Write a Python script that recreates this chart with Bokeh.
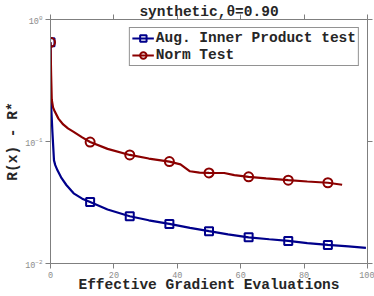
from bokeh.plotting import figure
from bokeh.models import LinearAxis, LogAxis, FixedTicker, Range1d, CustomJSTickFormatter
from bokeh.embed import file_html
from bokeh.resources import INLINE

title_text = "synthetic,θ=0.90"
x_label = "Effective Gradient Evaluations"
y_label = "R(x) - R*"
series_names = ["Aug. Inner Product test", "Norm Test"]

x_ticks = [0, 20, 40, 60, 80, 100]
y_ticks = [0.01, 0.1, 1.0]

aug_x = [0, 0.15, 0.6, 1.1, 1.5, 2.2, 3.5, 5, 7.3, 10, 12.5, 18, 25, 31, 37.5,
         44, 50, 56, 62.5, 69, 75, 81, 87.5, 94, 99.5]
aug_y = [0.65, 0.21, 0.12, 0.07, 0.064, 0.058, 0.050, 0.044, 0.0376, 0.034,
         0.0319, 0.0277, 0.0244, 0.0226, 0.0211, 0.0196, 0.0184, 0.0173, 0.0164,
         0.0158, 0.0153, 0.0147, 0.0142, 0.0138, 0.01345]

norm_x = [0, 0.2, 0.4, 0.8, 1.4, 2.5, 4, 5.5, 7.3, 10, 12.5, 18, 25, 31, 37.5,
          41, 44, 47, 50, 54.8, 58, 62.5, 68, 75, 81, 87.5, 92]
norm_y = [0.65, 0.35, 0.22, 0.19, 0.175, 0.154, 0.138, 0.128, 0.12, 0.108,
          0.099, 0.087, 0.0776, 0.0725, 0.0684, 0.065, 0.057, 0.0556, 0.0553,
          0.0552, 0.053, 0.0513, 0.0498, 0.0482, 0.047, 0.0459, 0.0442]

marker_x = [0, 12.5, 25, 37.5, 50, 62.5, 75, 87.5]
aug_marker_y = [0.65, 0.0319, 0.0244, 0.0211, 0.0184, 0.0164, 0.0153, 0.0142]
norm_marker_y = [0.65, 0.099, 0.0776, 0.0684, 0.0553, 0.0513, 0.0482, 0.0459]

BLUE = "#00008B"
RED = "#8B0000"
AXIS = "#7f7f7f"
TEXT = "#262626"
MONO = "Liberation Mono"

p = figure(width=374, height=296, y_axis_type="log",
           x_range=Range1d(0, 100), y_range=Range1d(0.01, 1.0),
           output_backend="svg", toolbar_location=None,
           min_border_left=50, min_border_right=7, min_border_top=17,
           min_border_bottom=33)
p.grid.visible = False
p.outline_line_color = None
p.background_fill_color = "white"
p.border_fill_color = "white"

def style_axis(ax, labels=True):
    ax.axis_line_color = AXIS
    ax.major_tick_line_color = AXIS
    ax.major_tick_out = 5
    ax.major_tick_in = 0
    ax.minor_tick_line_color = None
    ax.major_label_text_font = MONO
    ax.major_label_text_color = "#8c8c8c"
    ax.major_label_text_font_size = "8.5px"
    ax.major_label_standoff = 4 if labels else 0
    ax.axis_label_text_font = MONO
    ax.axis_label_text_font_style = "bold"
    ax.axis_label_text_font_size = "14.5px"
    ax.axis_label_text_color = TEXT
    ax.axis_label_standoff = 0
    if not labels:
        ax.formatter = CustomJSTickFormatter(code="return ''")

p.xaxis.ticker = FixedTicker(ticks=x_ticks)
p.yaxis.ticker = FixedTicker(ticks=y_ticks)
p.xaxis.axis_label = x_label
p.yaxis.axis_label = y_label
style_axis(p.xaxis[0])
style_axis(p.yaxis[0])
p.xaxis[0].axis_label_standoff = -4
p.xaxis[0].major_label_standoff = 3
p.yaxis[0].axis_label_standoff = 1
p.yaxis[0].major_label_standoff = 3

top = LinearAxis(ticker=FixedTicker(ticks=x_ticks))
style_axis(top, labels=False)
top.axis_label = title_text
top.axis_label_standoff = -5
p.add_layout(top, "above")
right = LogAxis(ticker=FixedTicker(ticks=y_ticks))
style_axis(right, labels=False)
p.add_layout(right, "right")

p.line(aug_x, aug_y, line_color=BLUE, line_width=2.2, legend_label=series_names[0])
p.scatter(marker_x, aug_marker_y, marker="square", size=8, fill_color=None,
          line_color=BLUE, line_width=2, legend_label=series_names[0])
p.line(norm_x, norm_y, line_color=RED, line_width=2.2, legend_label=series_names[1])
p.scatter(marker_x, norm_marker_y, marker="circle", size=9, fill_color=None,
          line_color=RED, line_width=2, legend_label=series_names[1])

lg = p.legend[0]
lg.location = "top_right"
lg.margin = 8
lg.padding = 2
lg.spacing = 1
lg.label_standoff = 2
lg.glyph_width = 22
lg.glyph_height = 16
lg.label_height = 16
lg.label_text_font = MONO
lg.label_text_font_style = "bold"
lg.label_text_font_size = "14.5px"
lg.label_text_color = TEXT
lg.border_line_color = TEXT
lg.border_line_width = 1
lg.background_fill_color = "white"
lg.background_fill_alpha = 1.0

open("out.html", "w").write(file_html(p, INLINE))
